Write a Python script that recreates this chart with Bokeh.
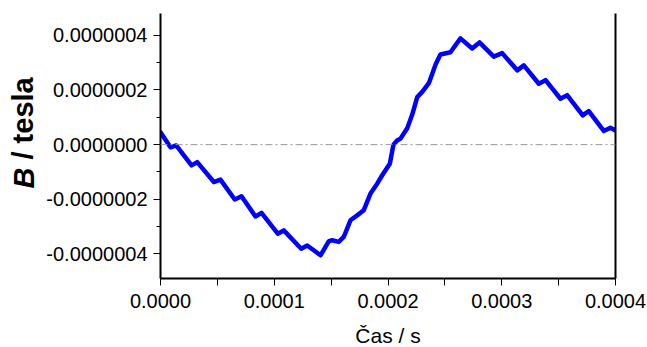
import math
from bokeh.plotting import figure
from bokeh.models import Range1d, FixedTicker, LinearAxis, Span, Label
from bokeh.embed import file_html
from bokeh.resources import INLINE

# ---- data ----
time_s = [
    0.0e-5, 0.88e-5, 1.38e-5, 2.73e-5, 3.23e-5, 4.69e-5, 5.27e-5, 6.53e-5, 7.12e-5,
    8.35e-5, 8.88e-5, 10.31e-5, 10.84e-5, 12.37e-5, 12.90e-5, 14.07e-5, 14.80e-5,
    15.09e-5, 15.67e-5, 16.11e-5, 16.70e-5, 17.29e-5, 17.87e-5, 18.46e-5, 19.05e-5,
    19.49e-5, 20.16e-5, 20.48e-5, 20.80e-5, 21.10e-5, 21.69e-5, 22.13e-5, 22.57e-5,
    23.01e-5, 23.59e-5, 24.20e-5, 24.61e-5, 25.49e-5, 26.37e-5, 27.40e-5, 28.04e-5,
    29.30e-5, 30.04e-5, 31.36e-5, 31.94e-5, 33.26e-5, 33.85e-5, 35.16e-5, 35.75e-5,
    37.12e-5, 37.65e-5, 38.97e-5, 39.56e-5, 40.0e-5,
]
field_T = [
    0.45e-7, -0.10e-7, -0.03e-7, -0.76e-7, -0.64e-7, -1.37e-7, -1.28e-7, -2.01e-7, -1.89e-7,
    -2.63e-7, -2.50e-7, -3.26e-7, -3.14e-7, -3.81e-7, -3.69e-7, -4.05e-7, -3.53e-7,
    -3.50e-7, -3.56e-7, -3.38e-7, -2.77e-7, -2.59e-7, -2.40e-7, -1.79e-7, -1.43e-7,
    -1.12e-7, -0.70e-7, 0.00e-7, 0.15e-7, 0.22e-7, 0.60e-7, 1.10e-7, 1.74e-7,
    1.93e-7, 2.25e-7, 2.95e-7, 3.30e-7, 3.38e-7, 3.89e-7, 3.52e-7, 3.74e-7,
    3.22e-7, 3.35e-7, 2.72e-7, 2.90e-7, 2.23e-7, 2.36e-7, 1.68e-7, 1.81e-7,
    1.07e-7, 1.23e-7, 0.50e-7, 0.62e-7, 0.52e-7,
]

x_ticks = [0.0, 0.0001, 0.0002, 0.0003, 0.0004]
x_tick_labels = ["0.0000", "0.0001", "0.0002", "0.0003", "0.0004"]
x_minor_ticks = [0.00005, 0.00015, 0.00025, 0.00035]

y_ticks = [-4e-7, -2e-7, 0.0, 2e-7, 4e-7]
y_tick_labels = ["-0.0000004", "-0.0000002", "0.0000000", "0.0000002", "0.0000004"]
y_minor_ticks = [-3e-7, -1e-7, 1e-7, 3e-7]

x_label = "Čas / s"
y_label_sym = "B"
y_label_rest = "/ tesla"

FONT = "Liberation Sans"

p = figure(
    width=647, height=347,
    output_backend="svg", toolbar_location=None,
    x_range=Range1d(0.0, 0.0004), y_range=Range1d(-4.9e-7, 4.8e-7),
    x_axis_type=None, y_axis_type=None,
    min_border_left=160, min_border_right=32, min_border_top=13, min_border_bottom=69,
)
p.outline_line_color = None
p.background_fill_color = "white"
p.border_fill_color = "white"


def style_axis(ax, minor_len):
    ax.axis_line_color = "black"
    ax.axis_line_width = 2
    ax.major_tick_line_color = "black"
    ax.major_tick_line_width = 1
    ax.minor_tick_line_color = "black"
    ax.minor_tick_line_width = 1
    ax.major_tick_in = 0
    ax.major_tick_out = 7
    ax.minor_tick_in = 0
    ax.minor_tick_out = minor_len
    ax.major_label_text_font = FONT
    ax.major_label_text_font_size = "20px"
    ax.major_label_text_color = "black"
    ax.major_label_standoff = 6


xaxis = LinearAxis(
    ticker=FixedTicker(ticks=x_ticks, minor_ticks=x_minor_ticks),
    major_label_overrides=dict(zip(x_ticks, x_tick_labels)),
)
style_axis(xaxis, 7)
xaxis.major_label_standoff = 8
p.add_layout(xaxis, "below")

yaxis = LinearAxis(
    ticker=FixedTicker(ticks=y_ticks, minor_ticks=y_minor_ticks),
    major_label_overrides=dict(zip(y_ticks, y_tick_labels)),
)
style_axis(yaxis, 4)
p.add_layout(yaxis, "left")

raxis = LinearAxis(ticker=FixedTicker(ticks=[]))
raxis.axis_line_color = "black"
raxis.axis_line_width = 2
raxis.major_tick_out = 0
raxis.minor_tick_out = 0
raxis.major_label_standoff = 0
raxis.major_label_text_font_size = "0px"
p.add_layout(raxis, "right")

zero = Span(location=0.0, dimension="width", line_color="#999999",
            line_width=1, line_dash="7 3 2 3")
p.add_layout(zero)

p.line(time_s, field_T, line_color="#0000ff", line_width=4.5,
       line_join="round", line_cap="round")

YF = 29
p.add_layout(Label(x=12, y=90, x_units="screen", y_units="screen",
                   text=y_label_sym, angle=math.pi / 2,
                   text_font=FONT, text_font_size=f"{YF}px",
                   text_font_style="bold italic", text_color="black",
                   text_align="left", text_baseline="alphabetic"), "left")
p.add_layout(Label(x=-593, y=90 + YF, x_units="screen", y_units="screen",
                   text=y_label_rest, angle=math.pi / 2,
                   text_font=FONT, text_font_size=f"{YF}px",
                   text_font_style="bold", text_color="black",
                   text_align="left", text_baseline="alphabetic"), "right")

p.add_layout(Label(x=227.5, y=-2, x_units="screen", y_units="screen",
                   text=x_label, text_font=FONT, text_font_size="21px",
                   text_color="black", text_align="center",
                   text_baseline="alphabetic"), "below")

open("out.html", "w").write(file_html(p, INLINE))
